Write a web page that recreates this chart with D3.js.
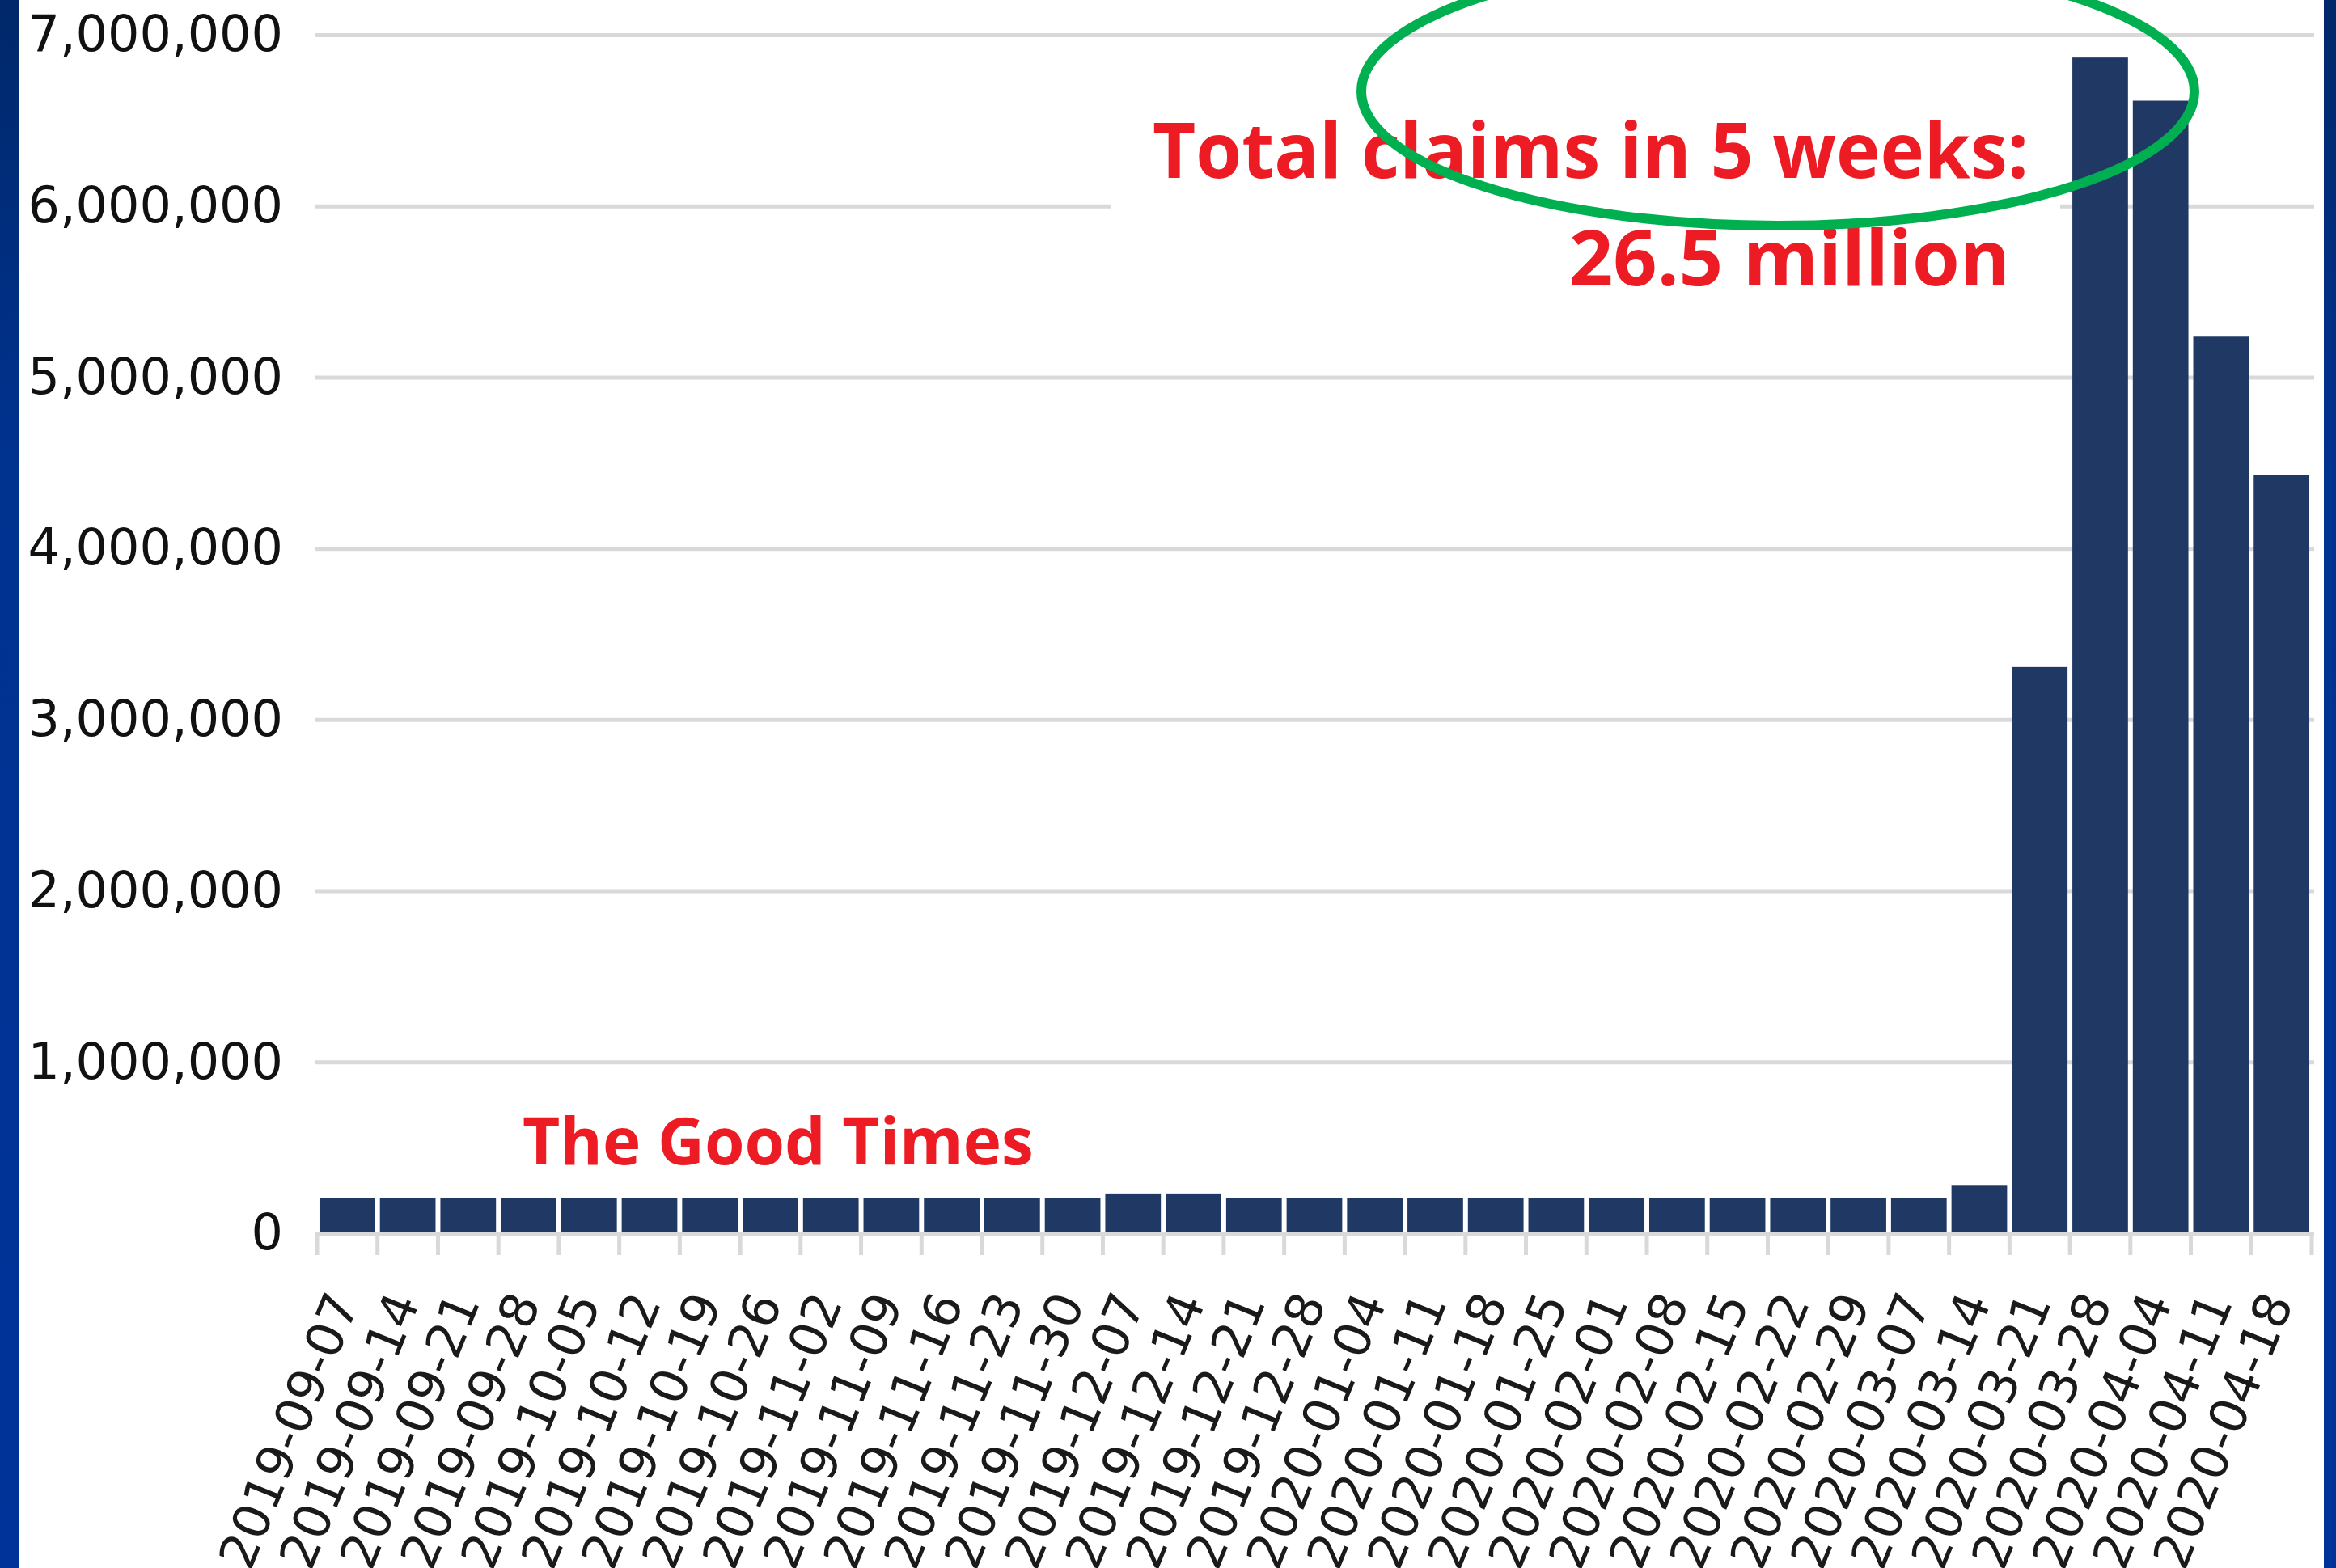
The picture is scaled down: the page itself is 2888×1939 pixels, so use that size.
<!DOCTYPE html>
<html>
<head>
<meta charset="utf-8">
<script src="https://cdn.jsdelivr.net/npm/d3@7/dist/d3.min.js"></script>
<style>
  body { margin: 0; background: #fff; }
  svg { display: block; }
</style>
</head>
<body>
<div id="chart"></div>
<script>
// weekly initial jobless claims

var weeks = [
  '2019-09-07', '2019-09-14', '2019-09-21', '2019-09-28', '2019-10-05', '2019-10-12',
  '2019-10-19', '2019-10-26', '2019-11-02', '2019-11-09', '2019-11-16', '2019-11-23',
  '2019-11-30', '2019-12-07', '2019-12-14', '2019-12-21', '2019-12-28', '2020-01-04',
  '2020-01-11', '2020-01-18', '2020-01-25', '2020-02-01', '2020-02-08', '2020-02-15',
  '2020-02-22', '2020-02-29', '2020-03-07', '2020-03-14', '2020-03-21', '2020-03-28',
  '2020-04-04', '2020-04-11', '2020-04-18'
];

var claims = [
  205000, 205000, 205000, 205000, 205000, 205000,
  205000, 205000, 205000, 205000, 205000, 205000,
  205000, 232000, 232000, 205000, 205000, 205000,
  205000, 205000, 205000, 205000, 205000, 205000,
  205000, 205000, 205000, 282000, 3307000, 6867000,
  6615000, 5237000, 4427000
];

var yTicks = [0, 1000000, 2000000, 3000000, 4000000, 5000000, 6000000, 7000000];

var noteLines = ['Total claims in 5 weeks:', '26.5 million'];
var goodTimes = 'The Good Times';

var width = 2888,
    height = 1939;

var plotLeft = 390,
    plotRight = 2861,
    barLeft = 392,
    barRight = 2858;

var x = d3.scaleBand()
  .domain(weeks)
  .range([barLeft, barRight])
  .paddingInner(0.08)
  .paddingOuter(0.04);

var y = d3.scaleLinear()
  .domain([0, 7000000])
  .range([1525, 43]);

var svg = d3.select('#chart')
  .append('svg')
    .attr('width', width)
    .attr('height', height);

var defs = svg.append('defs');
var grad = defs.append('linearGradient')
  .attr('id', 'edge')
  .attr('x1', 0).attr('y1', 0)
  .attr('x2', 0).attr('y2', 1);
grad.append('stop').attr('offset', '0%').attr('stop-color', '#00286a');
grad.append('stop').attr('offset', '30%').attr('stop-color', '#003290');
grad.append('stop').attr('offset', '100%').attr('stop-color', '#003399');

svg.append('rect')
  .attr('width', width)
  .attr('height', height)
  .attr('fill', '#fff');

// gridlines
svg.append('g')
  .attr('transform', 'translate(' + plotLeft + ',0)')
  .call(d3.axisLeft(y)
    .tickValues(yTicks.slice(1))
    .tickSize(-(plotRight - plotLeft))
    .tickFormat(''))
  .call(function(g) {
    g.select('.domain').remove();
    g.selectAll('.tick line')
      .attr('stroke', '#d9d9d9')
      .attr('stroke-width', 5);
  });

// y labels
svg.append('g')
  .attr('transform', 'translate(' + plotLeft + ',0)')
  .call(d3.axisLeft(y)
    .tickValues(yTicks)
    .tickSize(0)
    .tickPadding(40)
    .tickFormat(d3.format(',')))
  .call(function(g) {
    g.select('.domain').remove();
    g.selectAll('.tick text')
      .attr('font-family', '"DejaVu Sans", sans-serif')
      .attr('font-size', 62)
      .attr('fill', '#111');
  });

// white box behind the note, it hides part of the 6M gridline
svg.append('rect')
  .attr('x', 1373)
  .attr('y', 62)
  .attr('width', 2547 - 1373)
  .attr('height', 330)
  .attr('fill', '#fff');

svg.append('g')
  .selectAll('rect')
  .data(claims)
  .enter().append('rect')
    .attr('x', function(d, i) { return x(weeks[i]); })
    .attr('y', function(d) { return y(d); })
    .attr('width', x.bandwidth())
    .attr('height', function(d) { return y(0) - y(d); })
    .attr('fill', '#203864');

// x axis line and ticks between the bars
svg.append('line')
  .attr('x1', plotLeft)
  .attr('x2', plotRight)
  .attr('y1', y(0) + 0.5)
  .attr('y2', y(0) + 0.5)
  .attr('stroke', '#d9d9d9')
  .attr('stroke-width', 5);

var tickPos = d3.range(weeks.length + 1).map(function(i) { return barLeft + i * x.step(); });

svg.append('g')
  .selectAll('line')
  .data(tickPos)
  .enter().append('line')
    .attr('x1', function(d) { return d; })
    .attr('x2', function(d) { return d; })
    .attr('y1', y(0))
    .attr('y2', 1552)
    .attr('stroke', '#d9d9d9')
    .attr('stroke-width', 5);

svg.append('g')
  .selectAll('text')
  .data(weeks)
  .enter().append('text')
    .attr('transform', function(d) {
      return 'translate(' + (x(d) + x.bandwidth() / 2 - 5) + ',1602) rotate(-68)';
    })
    .attr('text-anchor', 'end')
    .attr('dy', '0.35em')
    .attr('font-family', '"DejaVu Sans", sans-serif')
    .attr('font-size', 62)
    .attr('fill', '#1a1a1a')
    .text(function(d) { return d; });

// annotations
svg.append('text')
  .attr('x', 646)
  .attr('y', 1440)
  .attr('font-family', '"Open Sans", sans-serif')
  .attr('font-weight', 700)
  .attr('font-size', 80)
  .attr('fill', '#ed1c24')
  .text(goodTimes);

svg.append('text')
  .attr('x', 1425)
  .attr('y', 220)
  .attr('font-family', '"Open Sans", sans-serif')
  .attr('font-weight', 700)
  .attr('font-size', 95)
  .attr('textLength', 1083)
  .attr('lengthAdjust', 'spacingAndGlyphs')
  .attr('fill', '#ed1c24')
  .text(noteLines[0]);

svg.append('text')
  .attr('x', 1940)
  .attr('y', 353)
  .attr('font-family', '"Open Sans", sans-serif')
  .attr('font-weight', 700)
  .attr('font-size', 95)
  .attr('fill', '#ed1c24')
  .text(noteLines[1]);

svg.append('ellipse')
  .attr('cx', 2198)
  .attr('cy', 113)
  .attr('rx', 515)
  .attr('ry', 166)
  .attr('fill', 'none')
  .attr('stroke', '#00b050')
  .attr('stroke-width', 12);

// blue slide edges
svg.append('rect')
  .attr('x', 0).attr('y', 0)
  .attr('width', 24).attr('height', height)
  .attr('fill', 'url(#edge)');

svg.append('rect')
  .attr('x', 2873).attr('y', 0)
  .attr('width', width - 2873).attr('height', height)
  .attr('fill', 'url(#edge)');
</script>
</body>
</html>
